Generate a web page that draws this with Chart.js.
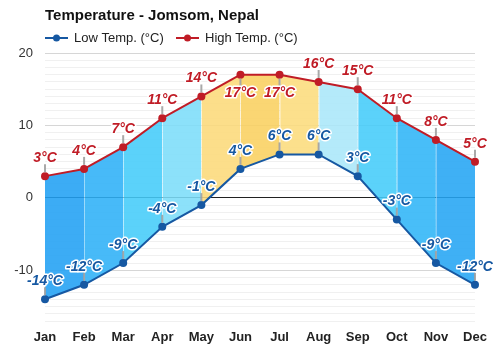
<!DOCTYPE html>
<html>
<head>
<meta charset="utf-8">
<script src="https://cdn.jsdelivr.net/npm/chart.js@4.4.0/dist/chart.umd.min.js"></script>
<style>
    html, body { margin: 0; padding: 0; background: #fff; }
    #box { width: 500px; height: 350px; }
</style>
</head>
<body>
<div id="box"><canvas id="myChart"></canvas></div>
<script>
const months = ['Jan', 'Feb', 'Mar', 'Apr', 'May', 'Jun', 'Jul', 'Aug', 'Sep', 'Oct', 'Nov', 'Dec']
const lowTemps = [-14, -12, -9, -4, -1, 4, 6, 6, 3, -3, -9, -12]
const highTemps = [3, 4, 7, 11, 14, 17, 17, 16, 15, 11, 8, 5]
const yTicks = [-10, 0, 10, 20]
const highBelow = [5, 6] // Jun, Jul: high label sits under the point
// colour of the band between month i and i+1
const bandColors = [
    [60, 172, 245], [70, 186, 248], [90, 210, 250], [140, 225, 250],
    [252, 222, 138], [250, 214, 115], [252, 224, 140], [180, 234, 250],
    [90, 210, 250], [72, 190, 248], [62, 176, 245]
]

const FONT = '"Liberation Sans", Arial, sans-serif'
const LOW_COLOR = 'rgb(22, 88, 162)'
const HIGH_COLOR = 'rgb(192, 28, 38)'
const FILL_ALPHA = 0.88

// base colour so that at FILL_ALPHA over white it looks like the target
function bandFill(i) {
    let c = bandColors[i] || bandColors[0]
    let base = c.map(v => Math.max(0, Math.round((v - (1 - FILL_ALPHA) * 255) / FILL_ALPHA)))
    return `rgba(${base[0]}, ${base[1]}, ${base[2]}, ${FILL_ALPHA})`
}

const decor = {
    id: 'decor',
    afterDatasetsDraw(chart) {
        const ctx = chart.ctx
        const x = chart.scales.x
        const y = chart.scales.y

        // light month lines inside the band
        ctx.save()
        ctx.strokeStyle = 'rgba(255, 255, 255, 0.35)'
        ctx.lineWidth = 1
        for (let i = 1; i < months.length - 1; i++) {
            let px = Math.round(x.getPixelForValue(i)) + 0.5
            ctx.beginPath()
            ctx.moveTo(px, y.getPixelForValue(lowTemps[i]) - 4)
            ctx.lineTo(px, y.getPixelForValue(highTemps[i]) + 4)
            ctx.stroke()
        }
        ctx.restore()

        function label(i, value, color, below) {
            let px = x.getPixelForValue(i)
            let py = y.getPixelForValue(value)
            let dir = below ? 1 : -1
            ctx.save()
            ctx.strokeStyle = 'rgba(160, 160, 160, 0.9)'
            ctx.lineWidth = 2
            ctx.beginPath()
            ctx.moveTo(px, py + dir * 4)
            ctx.lineTo(px, py + dir * 12)
            ctx.stroke()
            ctx.font = 'italic bold 14px ' + FONT
            ctx.textAlign = 'center'
            ctx.textBaseline = 'middle'
            ctx.lineJoin = 'round'
            ctx.lineWidth = 3
            ctx.strokeStyle = '#fff'
            let txt = value + '°C'
            ctx.strokeText(txt, px, py + dir * 18)
            ctx.fillStyle = color
            ctx.fillText(txt, px, py + dir * 18)
            ctx.restore()
        }

        for (let i = 0; i < months.length; i++) {
            label(i, highTemps[i], HIGH_COLOR, highBelow.includes(i))
            label(i, lowTemps[i], LOW_COLOR, false)
        }
    },
    afterDraw(chart) {
        const ctx = chart.ctx
        const left = chart.chartArea.left
        ctx.save()
        ctx.textBaseline = 'middle'
        ctx.textAlign = 'left'
        ctx.fillStyle = '#111'
        ctx.font = 'bold 15px ' + FONT
        ctx.fillText('Temperature - Jomsom, Nepal', left, 16)

        let items = [
            { text: 'Low Temp. (°C)', color: LOW_COLOR, x: left },
            { text: 'High Temp. (°C)', color: HIGH_COLOR, x: left + 131 }
        ]
        ctx.font = '13px ' + FONT
        for (let it of items) {
            ctx.strokeStyle = it.color
            ctx.fillStyle = it.color
            ctx.lineWidth = 2
            ctx.beginPath()
            ctx.moveTo(it.x, 38)
            ctx.lineTo(it.x + 23, 38)
            ctx.stroke()
            ctx.beginPath()
            ctx.arc(it.x + 11.5, 38, 3.5, 0, Math.PI * 2)
            ctx.fill()
            ctx.fillStyle = '#222'
            ctx.fillText(it.text, it.x + 29, 38)
        }
        ctx.restore()
    }
}

const chartCtx = document.getElementById('myChart').getContext('2d')
const myChart = new Chart(chartCtx, {
    type: 'line',
    data: {
        labels: months,
        datasets: [{
            label: 'Low Temp. (°C)',
            data: lowTemps,
            borderColor: LOW_COLOR,
            backgroundColor: LOW_COLOR,
            borderWidth: 2,
            pointRadius: 4,
            pointBackgroundColor: LOW_COLOR,
            pointBorderWidth: 0,
            tension: 0,
            fill: false
        }, {
            label: 'High Temp. (°C)',
            data: highTemps,
            borderColor: HIGH_COLOR,
            backgroundColor: bandFill(0),
            borderWidth: 2,
            pointRadius: 4,
            pointBackgroundColor: HIGH_COLOR,
            pointBorderWidth: 0,
            tension: 0,
            fill: '-1',
            segment: {
                backgroundColor: c => bandFill(c.p0DataIndex)
            }
        }]
    },
    options: {
        responsive: true,
        maintainAspectRatio: false,
        animation: false,
        layout: { padding: { top: 53, right: 25, left: 0, bottom: 0 } },
        plugins: {
            legend: { display: false },
            title: { display: false },
            tooltip: { enabled: false }
        },
        scales: {
            x: {
                offset: false,
                grid: { display: false },
                border: { display: false },
                ticks: {
                    color: '#222',
                    padding: 1,
                    maxRotation: 0,
                    autoSkip: false,
                    font: { family: FONT, size: 13, weight: 'bold' }
                },
                afterFit(scale) { scale.height = 29 }
            },
            y: {
                min: -17,
                max: 20,
                border: { display: false },
                grid: {
                    drawTicks: false,
                    lineWidth: 1,
                    color: c => c.tick.value === 0 ? '#222' : (c.tick.value % 10 === 0 ? '#d6d6d6' : '#f0f0f0')
                },
                ticks: {
                    stepSize: 1,
                    autoSkip: false,
                    padding: 12,
                    color: '#333',
                    font: { family: FONT, size: 13 },
                    callback: v => yTicks.includes(v) ? String(v) : ''
                },
                afterFit(scale) { scale.width = 45 }
            }
        }
    },
    plugins: [decor]
})
</script>
</body>
</html>
